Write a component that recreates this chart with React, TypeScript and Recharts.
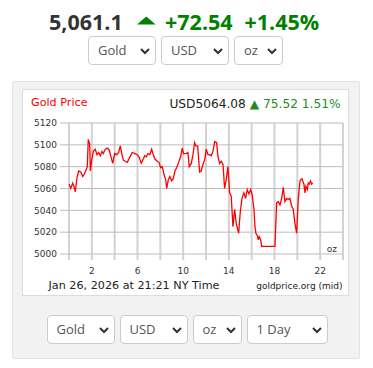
import { LineChart, Line, XAxis, YAxis, CartesianGrid } from "recharts";

// hours since midnight (NY time) and spot price in USD/oz
const hours = [
  0, 0.15, 0.32, 0.46, 0.55, 0.7, 0.85, 1.05, 1.2, 1.34, 1.49, 1.6, 1.69, 1.81, 1.87, 1.99,
  2.13, 2.3, 2.45, 2.6, 2.74, 2.89, 3.0, 3.18, 3.39, 3.53, 3.68, 3.83, 4.0, 4.18, 4.35, 4.49,
  4.64, 4.76, 4.93, 5.11, 5.34, 5.54, 5.78, 5.98, 6.13, 6.33, 6.51, 6.63, 6.77, 6.92, 7.09,
  7.24, 7.38, 7.53, 7.73, 7.88, 8.03, 8.17, 8.32, 8.47, 8.56, 8.7, 8.84, 8.99, 9.13, 9.28,
  9.43, 9.57, 9.78, 9.92, 10.04, 10.25, 10.42, 10.53, 10.71, 10.86, 11.0, 11.12, 11.27,
  11.44, 11.58, 11.73, 11.88, 12.02, 12.17, 12.32, 12.46, 12.61, 12.76, 12.93, 13.05, 13.2,
  13.34, 13.49, 13.63, 13.77, 13.92, 14.07, 14.21, 14.36, 14.51, 14.65, 14.86, 15.0, 15.15,
  15.32, 15.47, 15.61, 15.76, 15.91, 16.05, 16.2, 16.29, 16.37, 16.49, 16.58, 16.66, 16.79,
  16.87, 18.04, 18.19, 18.33, 18.48, 18.63, 18.77, 18.91, 19.06, 19.2, 19.35, 19.5, 19.64,
  19.79, 19.94, 20.08, 20.23, 20.4, 20.46, 20.58, 20.67, 20.75, 20.87, 20.96, 21.04, 21.16,
  21.25, 21.34,
];

const prices = [
  5064, 5060, 5065, 5061, 5057, 5070, 5076, 5075, 5071, 5073, 5077, 5080, 5105, 5101, 5076, 5086,
  5094, 5096, 5091, 5093, 5090, 5094, 5092, 5096, 5097, 5095, 5089, 5083, 5092, 5091, 5093, 5099,
  5091, 5086, 5085, 5084, 5089, 5093, 5092, 5091, 5089, 5083, 5087, 5090, 5089, 5092, 5091,
  5096, 5091, 5087, 5085, 5084, 5079, 5080, 5073, 5068, 5060, 5068, 5071, 5067, 5069, 5076,
  5079, 5083, 5089, 5097, 5092, 5092, 5093, 5080, 5083, 5091, 5102, 5099, 5099,
  5075, 5076, 5082, 5086, 5096, 5091, 5091, 5090, 5094, 5103, 5102, 5089, 5083,
  5085, 5082, 5060, 5068, 5080, 5056, 5053, 5025, 5041, 5028, 5019, 5038, 5051,
  5056, 5051, 5059, 5055, 5059, 5054, 5041, 5025, 5019, 5017, 5013, 5016, 5013,
  5007, 5007, 5047, 5048, 5045, 5051, 5061, 5048, 5051, 5050, 5051, 5044, 5041,
  5028, 5019, 5050, 5067, 5069, 5067, 5064, 5056, 5062, 5059, 5065, 5064, 5067,
  5064, 5065,
];

const xTicks = [0, 2, 4, 6, 8, 10, 12, 14, 16, 18, 20, 22, 24];
const xLabels = [2, 6, 10, 14, 18, 22];
const yTicks = [5000, 5020, 5040, 5060, 5080, 5100, 5120];

const topSelects = ["Gold", "USD", "oz"];
const bottomSelects = ["Gold", "USD", "oz", "1 Day"];

const data = hours.map((h, i) => ({ h, price: prices[i] }));

const chartFont = "'DejaVu Sans', Verdana, sans-serif";
const uiFont = "'Open Sans', sans-serif";
const green = "#008000";

function Select({ x, y, w, label }: { x: number; y: number; w: number; label: string }) {
  return (
    <div
      style={{
        position: "absolute",
        left: x,
        top: y,
        width: w,
        height: 29,
        boxSizing: "border-box",
        border: "1px solid #cccccc",
        borderRadius: 4,
        background: "#fff",
        fontFamily: uiFont,
        fontSize: 13,
        color: "#555",
        lineHeight: "27px",
        paddingLeft: 9,
      }}
    >
      {label}
      <svg width={10} height={7} style={{ position: "absolute", right: 5, top: 11 }}>
        <polyline points="1,1 5,5 9,1" fill="none" stroke="#333" strokeWidth={2} />
      </svg>
    </div>
  );
}

export default function App() {
  const topWidths = [68, 68, 49];
  const topX = [88, 161, 234];
  const botWidths = [68, 68, 49, 81];
  const botX = [46.5, 119.5, 192.5, 246.5];

  return (
    <div style={{ position: "absolute", left: 0, top: 0, width: 373, height: 368, background: "#fff" }}>
      {/* outer panel + white chart box */}
      <div
        style={{
          position: "absolute",
          left: 12,
          top: 81,
          width: 348,
          height: 278,
          boxSizing: "border-box",
          background: "#f2f2f2",
          border: "1px solid #e2e2e2",
          borderRadius: 3,
        }}
      />
      <div
        style={{
          position: "absolute",
          left: 22,
          top: 89,
          width: 327,
          height: 207,
          boxSizing: "border-box",
          background: "#fff",
          border: "1px solid #dcdcdc",
        }}
      />

      <div style={{ position: "absolute", left: 0, top: 0 }}>
        <LineChart
          width={373}
          height={300}
          data={data}
          margin={{ top: 123, right: 30, bottom: 26, left: 29 }}
        >
          <CartesianGrid horizontal={false} stroke="#d2d2d2" strokeWidth={2} />
          <CartesianGrid vertical={false} stroke="#bdbdbd" strokeWidth={1} />
          <XAxis
            dataKey="h"
            type="number"
            domain={[0, 24]}
            ticks={xTicks}
            interval={0}
            height={20}
            axisLine={false}
            tickSize={6}
            tickMargin={8}
            tickLine={{ stroke: "#d2d2d2", strokeWidth: 2 }}
            tickFormatter={(v: number) => (xLabels.includes(v) ? String(v) : "")}
            tick={{ fill: "#333", fontSize: 9, fontFamily: chartFont }}
          />
          <YAxis
            type="number"
            domain={[5000, 5120]}
            ticks={yTicks}
            interval={0}
            width={40}
            axisLine={false}
            tickSize={9}
            tickMargin={3}
            tickLine={{ stroke: "#bdbdbd" }}
            tick={{ fill: "#333", fontSize: 9, fontFamily: chartFont }}
          />
          <Line
            type="linear"
            dataKey="price"
            stroke="#ff0000"
            strokeWidth={1.3}
            dot={false}
            isAnimationActive={false}
          />
        </LineChart>
      </div>

      {/* texts */}
      <svg width={373} height={368} style={{ position: "absolute", left: 0, top: 0, pointerEvents: "none" }}>
        <text x={49} y={29.5} fontFamily={uiFont} fontWeight={700} fontSize={21.5} fill="#333">
          5,061.1
        </text>
        <polygon points="137,24.5 146.3,16.5 155.6,24.5" fill={green} />
        <text x={165} y={29.5} fontFamily={uiFont} fontWeight={700} fontSize={21.5} fill={green}>
          +72.54
        </text>
        <text x={244.5} y={29.5} fontFamily={uiFont} fontWeight={700} fontSize={21.5} fill={green}>
          +1.45%
        </text>

        <text x={31} y={105.5} fontFamily={chartFont} fontSize={11.2} fill="#ff0000">
          Gold Price
        </text>
        <text x={340.5} y={108} textAnchor="end" fontFamily={chartFont} fontSize={12.2}>
          <tspan fill="#222">USD5064.08 </tspan>
          <tspan fill="#1e8c1e">▲ 75.52 1.51%</tspan>
        </text>

        <text x={337} y={251.5} textAnchor="end" fontFamily={chartFont} fontSize={9} fill="#333">
          oz
        </text>

        <text x={48.5} y={289} fontFamily={chartFont} fontSize={11.2} fill="#222">
          Jan 26, 2026 at 21:21 NY Time
        </text>
        <text x={342.5} y={289} textAnchor="end" fontFamily={chartFont} fontSize={9} fill="#222">
          goldprice.org (mid)
        </text>
      </svg>

      {topSelects.map((s, i) => (
        <Select key={"t" + i} x={topX[i]} y={36} w={topWidths[i]} label={s} />
      ))}
      {bottomSelects.map((s, i) => (
        <Select key={"b" + i} x={botX[i]} y={314.5} w={botWidths[i]} label={s} />
      ))}
    </div>
  );
}
